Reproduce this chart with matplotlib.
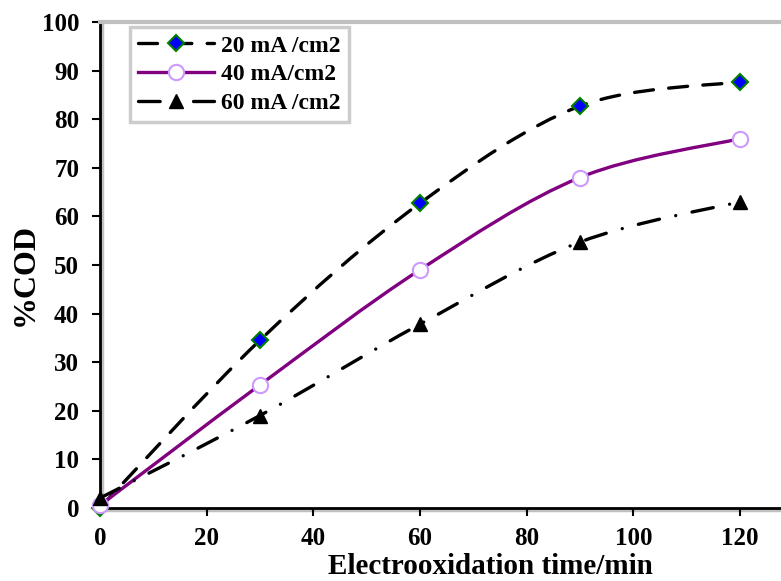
import numpy as np
import matplotlib.pyplot as plt
from matplotlib.path import Path
from matplotlib.patches import PathPatch
from matplotlib.lines import Line2D
import matplotlib.transforms as mtransforms

plt.rcParams['font.family'] = 'Liberation Serif'
plt.rcParams['font.weight'] = 'bold'

time_min = [0, 30, 60, 90, 120]
cod_20 = [0, 34.5, 62.7, 82.7, 87.7]
cod_40 = [0.5, 25.3, 49.0, 68.0, 76.0]
cod_60 = [2.0, 19.0, 37.8, 54.7, 63.0]
labels = ['20 mA /cm2', '40 mA/cm2', '60 mA /cm2']


def smooth_path(x, y):
    # Excel-like smoothed line: cubic Bezier segments with Catmull-Rom tangents
    pts = np.column_stack([x, y]).astype(float)
    ext = np.vstack([pts[0], pts, pts[-1]])
    verts = [pts[0]]
    codes = [Path.MOVETO]
    for i in range(len(pts) - 1):
        p0, p1, p2, p3 = ext[i], ext[i + 1], ext[i + 2], ext[i + 3]
        verts += [p1 + (p2 - p0) / 6, p2 - (p3 - p1) / 6, p2]
        codes += [Path.CURVE4] * 3
    return Path(verts, codes)


fig = plt.figure(figsize=(7.81, 5.81), dpi=100)
ax = fig.add_axes([0.128, 0.126, 0.872, 0.836])

LW = 2.4
styles = [
    dict(color='black', ls=(0, (5.7, 4.6)), marker='D', mfc='#0000ff', mec='#008000', ms=8.5, mew=1.5),
    dict(color='#800080', ls='-', marker='o', mfc='white', mec='#cc99ff', ms=11, mew=1.5),
    dict(color='black', ls=(0, (6.5, 5.0, 0.01, 5.0)), marker='^', mfc='black', mec='black', ms=10, mew=1),
]

handles = []
for yv, st, lab in zip([cod_20, cod_40, cod_60], styles, labels):
    patch = PathPatch(smooth_path(time_min, yv), fill=False, edgecolor=st['color'],
                      lw=LW, linestyle=st['ls'], capstyle='round', zorder=2)
    ax.add_patch(patch)
    ax.plot(time_min, yv, ls='none', marker=st['marker'], mfc=st['mfc'], mec=st['mec'],
            ms=st['ms'], mew=st['mew'], zorder=3, clip_on=False)
    handles.append(Line2D([], [], color=st['color'], lw=LW, ls=st['ls'], marker=st['marker'],
                          mfc=st['mfc'], mec=st['mec'], ms=st['ms'], mew=st['mew'],
                          dash_capstyle='round'))

ax.set_xlim(0, 127.7)
ax.set_ylim(0, 100)
ax.set_xticks([0, 20, 40, 60, 80, 100, 120])
ax.set_yticks(range(0, 101, 10))
ax.tick_params(axis='both', labelsize=18, direction='out', length=6, width=1.5)
ax.tick_params(axis='x', pad=8)
ax.tick_params(axis='y', pad=9)
for t in ax.get_xticklabels() + ax.get_yticklabels():
    t.set_fontweight('bold')

ax.spines['right'].set_visible(False)
ax.spines['top'].set_color('#c0c0c0')
ax.spines['top'].set_linewidth(3)
ax.spines['left'].set_linewidth(2)
ax.spines['bottom'].set_linewidth(2)

# gray shadow next to left and bottom spines
off = mtransforms.ScaledTranslation(2.5 / 100, 0, fig.dpi_scale_trans)
ax.add_line(Line2D([0, 0], [0, 1], transform=ax.transAxes + off, color='#c0c0c0', lw=2.5,
                   clip_on=False, zorder=1))
off2 = mtransforms.ScaledTranslation(0, -2.5 / 100, fig.dpi_scale_trans)
ax.add_line(Line2D([0, 1], [0, 0], transform=ax.transAxes + off2, color='#c0c0c0', lw=2.5,
                   clip_on=False, zorder=1))

ax.set_ylabel('%COD', fontsize=23, fontweight='bold')
ax.yaxis.set_label_coords(-0.089, 0.48)
ax.set_xlabel('Electrooxidation time/min', fontsize=21, fontweight='bold', va='bottom')
ax.xaxis.set_label_coords(0.573, -0.148)

leg = ax.legend(handles, labels, loc='upper left', bbox_to_anchor=(0.044, 0.99),
                borderaxespad=0, frameon=True, fancybox=False, handlelength=3.2, borderpad=0.35,
                labelspacing=0.3, handletextpad=0.3, prop={'weight': 'bold', 'size': 17})
leg.get_frame().set_edgecolor('#c0c0c0')
leg.get_frame().set_linewidth(2.5)

fig.savefig('out.png', dpi=100)
